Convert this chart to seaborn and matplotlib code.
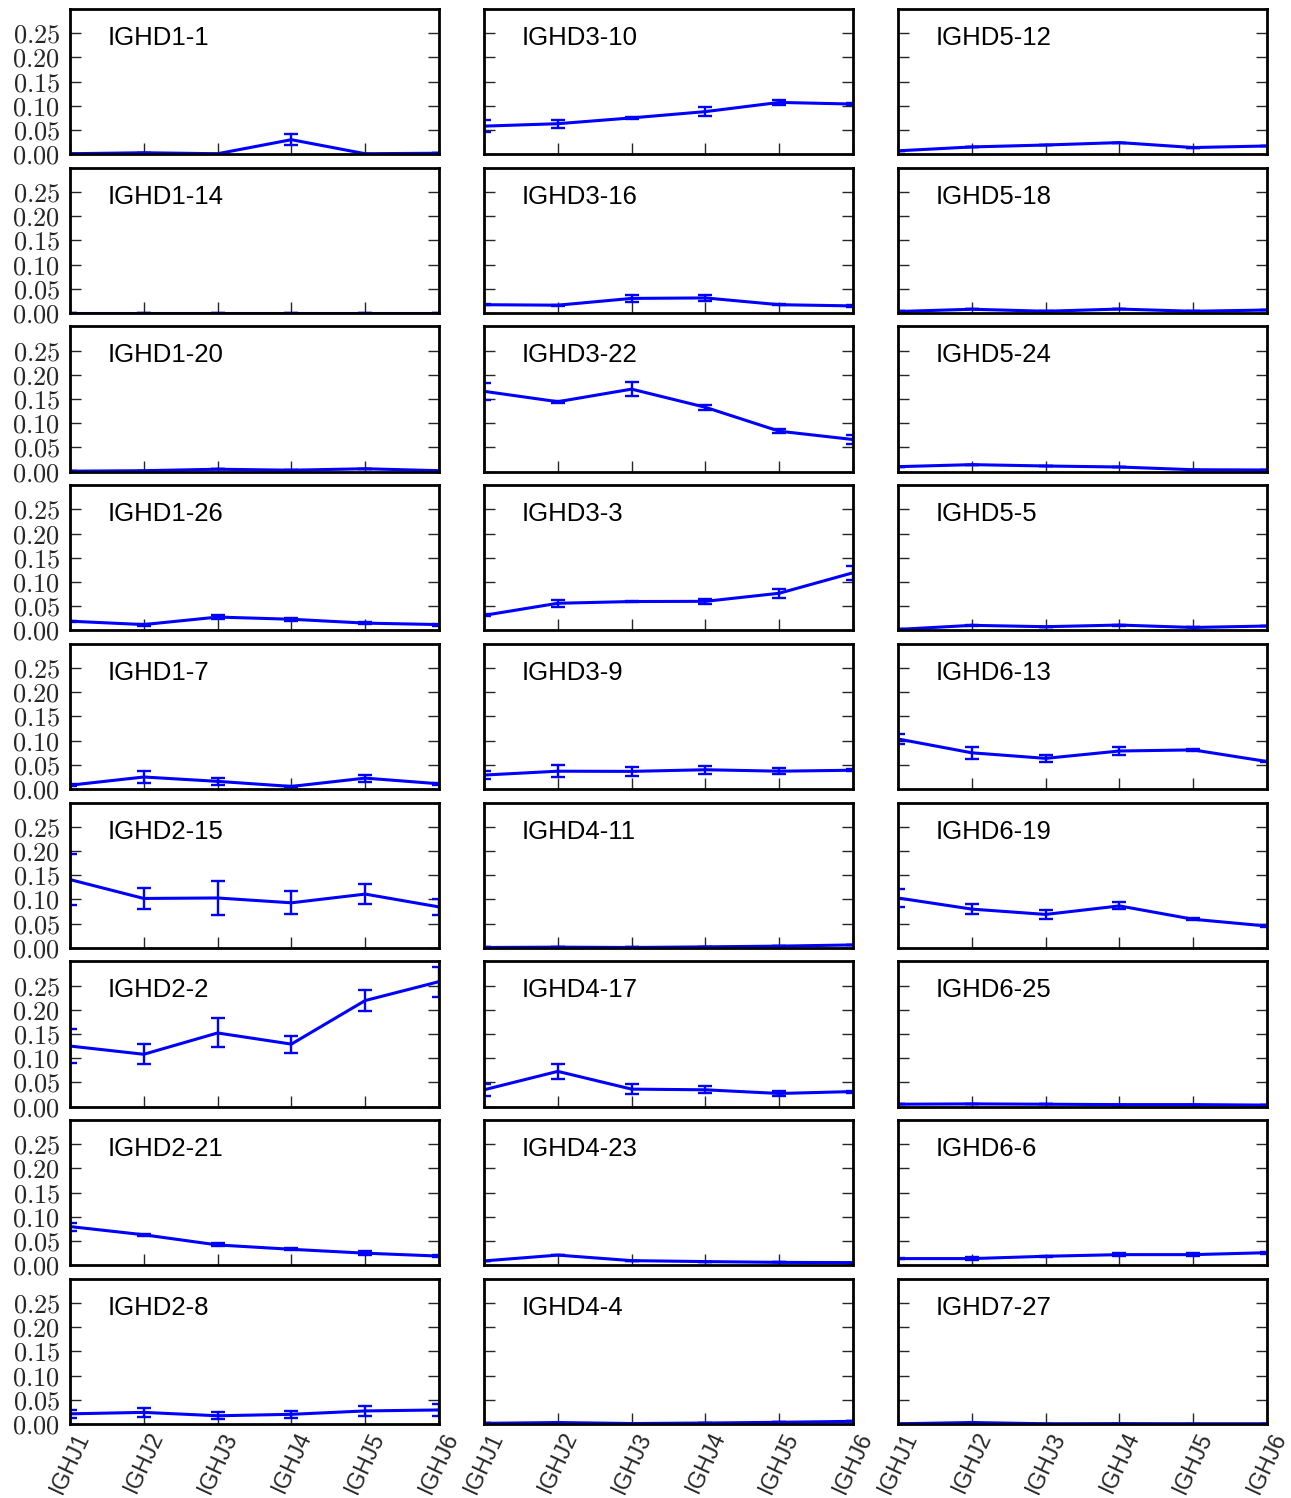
import numpy as np
import pandas as pd
import matplotlib
matplotlib.use("Agg")
import matplotlib.pyplot as plt
import seaborn as sns

# IGHJ genes on the x axis
j_genes = ["IGHJ1", "IGHJ2", "IGHJ3", "IGHJ4", "IGHJ5", "IGHJ6"]

# mean usage frequency and error per IGHD gene (one value per IGHJ gene)
mean_ighd1_1 = [0.001, 0.003, 0.001, 0.030, 0.001, 0.002]
err_ighd1_1 = [0.0, 0.0, 0.0, 0.0115, 0.0, 0.0]
mean_ighd1_14 = [0.0005, 0.0005, 0.0005, 0.0005, 0.0005, 0.0005]
err_ighd1_14 = [0.0, 0.0, 0.0, 0.0, 0.0, 0.0]
mean_ighd1_20 = [0.001, 0.002, 0.005, 0.003, 0.006, 0.002]
err_ighd1_20 = [0.0, 0.0, 0.0, 0.0, 0.0, 0.0]
mean_ighd1_26 = [0.019, 0.012, 0.0275, 0.023, 0.015, 0.012]
err_ighd1_26 = [0.001, 0.002, 0.005, 0.003, 0.002, 0.002]
mean_ighd1_7 = [0.008, 0.025, 0.016, 0.0055, 0.0227, 0.011]
err_ighd1_7 = [0.002, 0.0114, 0.007, 0.001, 0.007, 0.002]
mean_ighd2_15 = [0.141, 0.102, 0.103, 0.093, 0.111, 0.0845]
err_ighd2_15 = [0.052, 0.0215, 0.035, 0.024, 0.020, 0.016]
mean_ighd2_2 = [0.125, 0.108, 0.152, 0.129, 0.219, 0.258]
err_ighd2_2 = [0.035, 0.021, 0.030, 0.0177, 0.0225, 0.031]
mean_ighd2_21 = [0.080, 0.063, 0.042, 0.033, 0.025, 0.019]
err_ighd2_21 = [0.0083, 0.002, 0.003, 0.002, 0.004, 0.002]
mean_ighd2_8 = [0.021, 0.024, 0.017, 0.020, 0.027, 0.029]
err_ighd2_8 = [0.0076, 0.0097, 0.007, 0.007, 0.010, 0.012]

mean_ighd3_10 = [0.058, 0.063, 0.075, 0.088, 0.107, 0.1036]
err_ighd3_10 = [0.012, 0.008, 0.002, 0.0093, 0.0045, 0.002]
mean_ighd3_16 = [0.017, 0.016, 0.030, 0.031, 0.017, 0.0145]
err_ighd3_16 = [0.001, 0.001, 0.008, 0.006, 0.001, 0.002]
mean_ighd3_22 = [0.166, 0.1445, 0.1705, 0.133, 0.0836, 0.0664]
err_ighd3_22 = [0.018, 0.002, 0.0144, 0.005, 0.0045, 0.0085]
mean_ighd3_3 = [0.031, 0.056, 0.0596, 0.060, 0.0767, 0.119]
err_ighd3_3 = [0.002, 0.007, 0.002, 0.005, 0.009, 0.0144]
mean_ighd3_9 = [0.029, 0.037, 0.0366, 0.040, 0.037, 0.039]
err_ighd3_9 = [0.0086, 0.0124, 0.009, 0.008, 0.006, 0.002]
mean_ighd4_11 = [0.0007, 0.0014, 0.0007, 0.002, 0.0035, 0.006]
err_ighd4_11 = [0.0, 0.0, 0.0, 0.0, 0.0, 0.0]
mean_ighd4_17 = [0.0346, 0.0727, 0.036, 0.0346, 0.027, 0.031]
err_ighd4_17 = [0.013, 0.0156, 0.0104, 0.0076, 0.0045, 0.002]
mean_ighd4_23 = [0.009, 0.021, 0.0096, 0.0076, 0.006, 0.0055]
err_ighd4_23 = [0.0, 0.0, 0.0, 0.0, 0.0, 0.0]
mean_ighd4_4 = [0.0014, 0.003, 0.001, 0.002, 0.0035, 0.0055]
err_ighd4_4 = [0.0, 0.0, 0.0, 0.0, 0.0, 0.0]

mean_ighd5_12 = [0.007, 0.015, 0.019, 0.024, 0.0138, 0.017]
err_ighd5_12 = [0.0, 0.0, 0.0, 0.0, 0.0, 0.0]
mean_ighd5_18 = [0.003, 0.0076, 0.0035, 0.008, 0.0035, 0.006]
err_ighd5_18 = [0.0, 0.0, 0.0, 0.0, 0.0, 0.0]
mean_ighd5_24 = [0.0103, 0.0145, 0.0117, 0.0096, 0.004, 0.0034]
err_ighd5_24 = [0.0, 0.0, 0.0, 0.0, 0.0, 0.0]
mean_ighd5_5 = [0.002, 0.0104, 0.0076, 0.011, 0.006, 0.009]
err_ighd5_5 = [0.0, 0.001, 0.0, 0.001, 0.0, 0.0]
mean_ighd6_13 = [0.1036, 0.075, 0.0635, 0.0787, 0.081, 0.057]
err_ighd6_13 = [0.0097, 0.013, 0.007, 0.008, 0.002, 0.002]
mean_ighd6_19 = [0.103, 0.080, 0.069, 0.0866, 0.059, 0.045]
err_ighd6_19 = [0.018, 0.0097, 0.0097, 0.0073, 0.002, 0.002]
mean_ighd6_25 = [0.0048, 0.0055, 0.0048, 0.004, 0.004, 0.003]
err_ighd6_25 = [0.0, 0.0, 0.0, 0.0, 0.0, 0.0]
mean_ighd6_6 = [0.0138, 0.0138, 0.0186, 0.022, 0.022, 0.026]
err_ighd6_6 = [0.001, 0.003, 0.001, 0.003, 0.003, 0.002]
mean_ighd7_27 = [0.0005, 0.003, 0.0005, 0.0008, 0.0005, 0.0005]
err_ighd7_27 = [0.0, 0.0, 0.0, 0.0, 0.0, 0.0]

# panels in column-major order
panels = [
    ("IGHD1-1", mean_ighd1_1, err_ighd1_1),
    ("IGHD1-14", mean_ighd1_14, err_ighd1_14),
    ("IGHD1-20", mean_ighd1_20, err_ighd1_20),
    ("IGHD1-26", mean_ighd1_26, err_ighd1_26),
    ("IGHD1-7", mean_ighd1_7, err_ighd1_7),
    ("IGHD2-15", mean_ighd2_15, err_ighd2_15),
    ("IGHD2-2", mean_ighd2_2, err_ighd2_2),
    ("IGHD2-21", mean_ighd2_21, err_ighd2_21),
    ("IGHD2-8", mean_ighd2_8, err_ighd2_8),
    ("IGHD3-10", mean_ighd3_10, err_ighd3_10),
    ("IGHD3-16", mean_ighd3_16, err_ighd3_16),
    ("IGHD3-22", mean_ighd3_22, err_ighd3_22),
    ("IGHD3-3", mean_ighd3_3, err_ighd3_3),
    ("IGHD3-9", mean_ighd3_9, err_ighd3_9),
    ("IGHD4-11", mean_ighd4_11, err_ighd4_11),
    ("IGHD4-17", mean_ighd4_17, err_ighd4_17),
    ("IGHD4-23", mean_ighd4_23, err_ighd4_23),
    ("IGHD4-4", mean_ighd4_4, err_ighd4_4),
    ("IGHD5-12", mean_ighd5_12, err_ighd5_12),
    ("IGHD5-18", mean_ighd5_18, err_ighd5_18),
    ("IGHD5-24", mean_ighd5_24, err_ighd5_24),
    ("IGHD5-5", mean_ighd5_5, err_ighd5_5),
    ("IGHD6-13", mean_ighd6_13, err_ighd6_13),
    ("IGHD6-19", mean_ighd6_19, err_ighd6_19),
    ("IGHD6-25", mean_ighd6_25, err_ighd6_25),
    ("IGHD6-6", mean_ighd6_6, err_ighd6_6),
    ("IGHD7-27", mean_ighd7_27, err_ighd7_27),
]

y_ticks = [0.00, 0.05, 0.10, 0.15, 0.20, 0.25]

sns.set_style("white")
plt.rcParams["font.family"] = ["Liberation Sans", "DejaVu Sans"]
plt.rcParams["mathtext.fontset"] = "cm"

n_rows, n_cols = 9, 3
fig, axes = plt.subplots(n_rows, n_cols, figsize=(12.91, 14.98), dpi=100)
fig.subplots_adjust(left=0.0542, right=0.9814, top=0.994, bottom=0.0494,
                    wspace=0.122, hspace=0.093)

for idx, (name, means, errs) in enumerate(panels):
    col, row = divmod(idx, n_rows)
    ax = axes[row, col]
    xpos = np.arange(len(j_genes))
    # two observations per point spanning mean +/- error; the interval is min..max
    df = pd.DataFrame({
        "j": np.concatenate([xpos, xpos]),
        "freq": np.concatenate([np.array(means) - np.array(errs),
                                np.array(means) + np.array(errs)]),
    })
    sns.lineplot(data=df, x="j", y="freq", ax=ax, color="#0000ff",
                 linewidth=2.2, estimator="mean",
                 errorbar=lambda v: (v.min(), v.max()),
                 err_style="bars",
                 err_kws=dict(capsize=5, elinewidth=1.7, capthick=1.7))
    ax.set_xlim(0, len(j_genes) - 1)
    ax.set_ylim(0, 0.3)
    ax.set_xlabel("")
    ax.set_ylabel("")
    ax.set_xticks(xpos)
    ax.set_yticks(y_ticks)
    for sp in ax.spines.values():
        sp.set_visible(True)
        sp.set_color("black")
        sp.set_linewidth(2.0)
    ax.tick_params(axis="y", direction="in", left=True, right=True,
                   length=8, width=1.0, pad=7, labelsize=19)
    ax.tick_params(axis="x", direction="in", bottom=True, top=False,
                   length=8, width=1.0, pad=3, labelsize=16.5)
    if col == 0:
        ax.set_yticklabels([f"${t:.2f}$" for t in y_ticks])
    else:
        ax.set_yticklabels([])
    if row == n_rows - 1:
        ax.set_xticklabels(j_genes, rotation=65, ha="center")
    else:
        ax.set_xticklabels([])
    ax.text(0.103, 0.752, name, transform=ax.transAxes, fontsize=18.5,
            ha="left", va="baseline", color="black")

fig.savefig("out.png", dpi=100)
